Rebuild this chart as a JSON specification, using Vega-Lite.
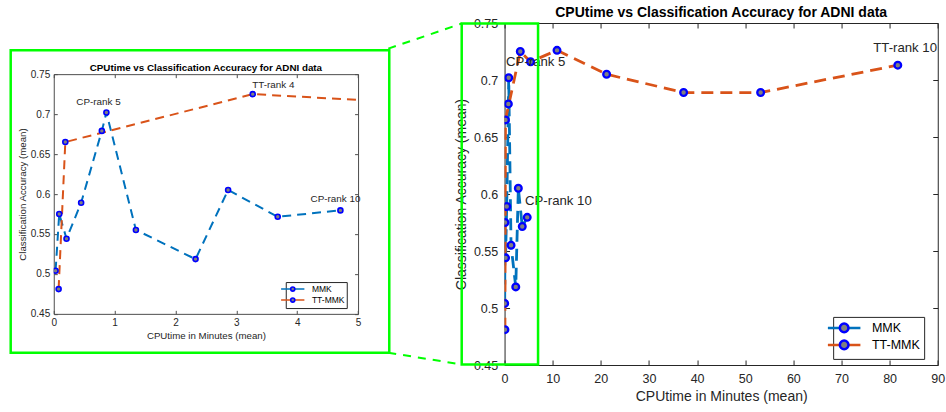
{
  "$schema": "https://vega.github.io/schema/vega-lite/v6.json",
  "background": "#ffffff",
  "padding": {"left": 8.75, "top": 5, "right": 2, "bottom": 2},
  "config": {
    "view": {"stroke": null},
    "font": "Liberation Sans",
    "axis": {"grid": false, "labelFlush": false, "labelOverlap": false, "labelFont": "Liberation Sans", "titleFont": "Liberation Sans"},
    "legend": {"labelFont": "Liberation Sans", "labelLimit": 0},
    "title": {"font": "Liberation Sans"}
  },
  "datasets": {
    "series": [
      {"series": "MMK", "cpu": 0.03, "acc": 0.504},
      {"series": "MMK", "cpu": 0.09, "acc": 0.575},
      {"series": "MMK", "cpu": 0.21, "acc": 0.544},
      {"series": "MMK", "cpu": 0.45, "acc": 0.589},
      {"series": "MMK", "cpu": 0.79, "acc": 0.679},
      {"series": "MMK", "cpu": 0.865, "acc": 0.702},
      {"series": "MMK", "cpu": 1.35, "acc": 0.555},
      {"series": "MMK", "cpu": 2.33, "acc": 0.5185},
      {"series": "MMK", "cpu": 2.865, "acc": 0.605},
      {"series": "MMK", "cpu": 3.68, "acc": 0.5715},
      {"series": "MMK", "cpu": 4.71, "acc": 0.5795},
      {"series": "TT-MMK", "cpu": 0.08, "acc": 0.481},
      {"series": "TT-MMK", "cpu": 0.19, "acc": 0.665},
      {"series": "TT-MMK", "cpu": 3.27, "acc": 0.725},
      {"series": "TT-MMK", "cpu": 5.4, "acc": 0.716},
      {"series": "TT-MMK", "cpu": 10.9, "acc": 0.726},
      {"series": "TT-MMK", "cpu": 21.2, "acc": 0.705},
      {"series": "TT-MMK", "cpu": 37.2, "acc": 0.689},
      {"series": "TT-MMK", "cpu": 53.2, "acc": 0.689},
      {"series": "TT-MMK", "cpu": 81.7, "acc": 0.713}
    ],
    "labels_main": [
      {"label": "CP-rank 5", "cpu": 0.31, "acc": 0.716},
      {"label": "CP-rank 10", "cpu": 4.26, "acc": 0.5936},
      {"label": "TT-rank 10", "cpu": 76.6, "acc": 0.728}
    ],
    "labels_inset": [
      {"label": "CP-rank 5", "cpu": 0.37, "acc": 0.715},
      {"label": "TT-rank 4", "cpu": 3.26, "acc": 0.737},
      {"label": "CP-rank 10", "cpu": 4.22, "acc": 0.594}
    ],
    "boxes": [
      {"box": "zoomed", "x0": -8.9, "x1": 6.96, "y0": 0.4505, "y1": 0.7495},
      {"box": "inset", "x0": -102.6, "x1": -23.95, "y0": 0.4608, "y1": 0.726}
    ],
    "links": [
      {"link": "upper", "cpu": -24.16, "acc": 0.7275},
      {"link": "upper", "cpu": -8.9, "acc": 0.7495},
      {"link": "lower", "cpu": -24.16, "acc": 0.4608},
      {"link": "lower", "cpu": -8.9, "acc": 0.4505}
    ]
  },
  "spacing": 145.8,
  "bounds": "flush",
  "center": true,
  "resolve": {
    "scale": {"x": "independent", "y": "independent", "color": "independent", "fill": "independent"},
    "legend": {"color": "independent", "fill": "independent"}
  },
  "hconcat": [
    {
      "width": 304.3,
      "height": 239.7,
      "title": {"text": "CPUtime vs Classification Accuracy for ADNI data", "fontSize": 9.8, "fontWeight": "bold", "color": "#000000", "offset": -3.5, "frame": "group"},
      "resolve": {"axis": {"x": "independent", "y": "independent"}},
      "layer": [
        {
          "data": {"name": "series"},
          "mark": {"type": "line", "strokeWidth": 2, "strokeDash": [9, 6], "clip": true},
          "encoding": {
            "x": {"field": "cpu", "type": "quantitative", "scale": {"domain": [0, 5], "nice": false, "zero": false},
              "axis": {"orient": "bottom", "values": [0, 1, 2, 3, 4, 5], "tickSize": -3.5, "labelPadding": 7, "labelFontSize": 10, "labelColor": "#262626", "domainColor": "#4d4d4d", "tickColor": "#4d4d4d", "title": "CPUtime in Minutes (mean)", "titleFontSize": 9.7, "titleFontWeight": "normal", "titleColor": "#262626", "titlePadding": 3}},
            "y": {"field": "acc", "type": "quantitative", "scale": {"domain": [0.45, 0.75], "nice": false, "zero": false},
              "axis": {"orient": "left", "values": [0.45, 0.5, 0.55, 0.6, 0.65, 0.7, 0.75], "format": ".2~f", "tickSize": -3.5, "labelPadding": 7.5, "labelFontSize": 10, "labelColor": "#262626", "domainColor": "#4d4d4d", "tickColor": "#4d4d4d", "title": "Classification Accuracy (mean)", "titleFontSize": 9.7, "titleFontWeight": "normal", "titleColor": "#262626", "titlePadding": 3}},
            "color": {"field": "series", "type": "nominal", "scale": {"domain": ["MMK", "TT-MMK"], "range": ["#0072BD", "#D95319"]},
              "legend": {"orient": "none", "legendX": 232, "legendY": 207.9, "title": null, "symbolType": "M-3.14,0H-0.55M0.55,0H3.14M0,-0.55M0,0.55", "symbolSize": 55, "symbolStrokeWidth": 1.6, "labelFontSize": 8.5, "labelColor": "#000000", "labelOffset": 14.15, "rowPadding": -3.7, "padding": 2, "strokeColor": "#262626", "fillColor": "#ffffff"}}
          }
        },
        {
          "data": {"name": "series"},
          "mark": {"type": "point", "filled": true, "size": 25, "stroke": "#0000FF", "strokeWidth": 1.6, "opacity": 1, "clip": true},
          "encoding": {
            "x": {"field": "cpu", "type": "quantitative", "scale": {"domain": [0, 5], "nice": false, "zero": false}, "axis": null},
            "y": {"field": "acc", "type": "quantitative", "scale": {"domain": [0.45, 0.75], "nice": false, "zero": false}, "axis": null},
            "fill": {"field": "series", "type": "nominal", "scale": {"domain": ["TT-MMK", "MMK"], "range": ["#808080", "#808080"]},
              "legend": {"orient": "none", "legendX": 232, "legendY": 207.9, "title": null, "symbolType": "M-3.14,0M3.14,0M-0.55,0A0.55,0.55,0,1,1,0.55,0A0.55,0.55,0,1,1,-0.55,0Z", "symbolSize": 55, "symbolStrokeWidth": 1.6, "symbolStrokeColor": "#0000FF", "labelFontSize": 8.5, "labelOpacity": 0, "labelExpr": "' '", "labelOffset": 14.15, "rowPadding": -3.7, "padding": 2}}
          }
        },
        {
          "data": {"name": "labels_inset"},
          "mark": {"type": "text", "align": "left", "baseline": "middle", "fontSize": 9.9, "color": "#262626"},
          "encoding": {
            "x": {"field": "cpu", "type": "quantitative", "scale": {"domain": [0, 5], "nice": false, "zero": false},
              "axis": {"orient": "top", "values": [0, 1, 2, 3, 4, 5], "labels": false, "title": null, "tickSize": -3.5, "domainColor": "#4d4d4d", "tickColor": "#4d4d4d"}},
            "y": {"field": "acc", "type": "quantitative", "scale": {"domain": [0.45, 0.75], "nice": false, "zero": false},
              "axis": {"orient": "right", "values": [0.45, 0.5, 0.55, 0.6, 0.65, 0.7, 0.75], "labels": false, "title": null, "tickSize": -3.5, "domainColor": "#4d4d4d", "tickColor": "#4d4d4d"}},
            "text": {"field": "label"}
          }
        }
      ]
    },
    {
      "width": 433.2,
      "height": 342,
      "title": {"text": "CPUtime vs Classification Accuracy for ADNI data", "fontSize": 14, "fontWeight": "bold", "color": "#000000", "offset": -2.5, "frame": "group"},
      "resolve": {"axis": {"x": "independent", "y": "independent"}},
      "layer": [
        {
          "data": {"name": "series"},
          "mark": {"type": "line", "strokeWidth": 2.8, "strokeDash": [12, 7], "clip": true},
          "encoding": {
            "x": {"field": "cpu", "type": "quantitative", "scale": {"domain": [0, 90], "nice": false, "zero": false},
              "axis": {"orient": "bottom", "values": [0, 10, 20, 30, 40, 50, 60, 70, 80, 90], "tickSize": -5, "labelPadding": 12, "labelFontSize": 12.5, "labelColor": "#262626", "domainColor": "#262626", "tickColor": "#262626", "title": "CPUtime in Minutes (mean)", "titleFontSize": 14, "titleFontWeight": "normal", "titleColor": "#262626", "titlePadding": 5}},
            "y": {"field": "acc", "type": "quantitative", "scale": {"domain": [0.45, 0.75], "nice": false, "zero": false},
              "axis": {"orient": "left", "values": [0.45, 0.5, 0.55, 0.6, 0.65, 0.7, 0.75], "format": ".2~f", "tickSize": -5, "labelPadding": 11.8, "labelFontSize": 12.5, "labelColor": "#262626", "domainColor": "#262626", "tickColor": "#262626", "title": "Classification Accuracy (mean)", "titleFontSize": 14, "titleFontWeight": "normal", "titleColor": "#262626", "titlePadding": 5}},
            "color": {"field": "series", "type": "nominal", "scale": {"domain": ["MMK", "TT-MMK"], "range": ["#0072BD", "#D95319"]},
              "legend": {"orient": "none", "legendX": 328.6, "legendY": 293.9, "title": null, "symbolType": "M-2.83,0H-0.75M0.75,0H2.83M0,-0.75M0,0.75", "symbolSize": 132, "symbolStrokeWidth": 2.5, "labelFontSize": 12.5, "labelColor": "#000000", "labelOffset": 20.75, "rowPadding": -6.2, "padding": 4, "strokeColor": "#262626", "fillColor": "#ffffff"}}
          }
        },
        {
          "data": {"name": "series"},
          "mark": {"type": "point", "filled": true, "size": 45, "stroke": "#0000FF", "strokeWidth": 2.3, "opacity": 1, "clip": true},
          "encoding": {
            "x": {"field": "cpu", "type": "quantitative", "scale": {"domain": [0, 90], "nice": false, "zero": false}, "axis": null},
            "y": {"field": "acc", "type": "quantitative", "scale": {"domain": [0.45, 0.75], "nice": false, "zero": false}, "axis": null},
            "fill": {"field": "series", "type": "nominal", "scale": {"domain": ["TT-MMK", "MMK"], "range": ["#808080", "#808080"]},
              "legend": {"orient": "none", "legendX": 328.6, "legendY": 293.9, "title": null, "symbolType": "M-2.83,0M2.83,0M-0.75,0A0.75,0.75,0,1,1,0.75,0A0.75,0.75,0,1,1,-0.75,0Z", "symbolSize": 132, "symbolStrokeWidth": 2.5, "symbolStrokeColor": "#0000FF", "labelFontSize": 12.5, "labelOpacity": 0, "labelExpr": "' '", "labelOffset": 20.75, "rowPadding": -6.2, "padding": 4}}
          }
        },
        {
          "data": {"name": "labels_main"},
          "mark": {"type": "text", "align": "left", "baseline": "middle", "fontSize": 13.2, "color": "#262626"},
          "encoding": {
            "x": {"field": "cpu", "type": "quantitative", "scale": {"domain": [0, 90], "nice": false, "zero": false},
              "axis": {"orient": "top", "values": [0, 10, 20, 30, 40, 50, 60, 70, 80, 90], "labels": false, "title": null, "tickSize": -5, "domainColor": "#262626", "tickColor": "#262626"}},
            "y": {"field": "acc", "type": "quantitative", "scale": {"domain": [0.45, 0.75], "nice": false, "zero": false},
              "axis": {"orient": "right", "values": [0.45, 0.5, 0.55, 0.6, 0.65, 0.7, 0.75], "labels": false, "title": null, "tickSize": -5, "domainColor": "#262626", "tickColor": "#262626"}},
            "text": {"field": "label"}
          }
        },
        {
          "data": {"name": "boxes"},
          "mark": {"type": "rect", "filled": false, "stroke": "#00FF00", "strokeWidth": 2.5, "clip": false},
          "encoding": {
            "x": {"field": "x0", "type": "quantitative", "scale": {"domain": [0, 90], "nice": false, "zero": false}, "axis": null},
            "x2": {"field": "x1"},
            "y": {"field": "y0", "type": "quantitative", "scale": {"domain": [0.45, 0.75], "nice": false, "zero": false}, "axis": null},
            "y2": {"field": "y1"}
          }
        },
        {
          "data": {"name": "links"},
          "mark": {"type": "line", "stroke": "#00FF00", "strokeWidth": 2, "strokeDash": [8, 7], "clip": false},
          "encoding": {
            "x": {"field": "cpu", "type": "quantitative", "scale": {"domain": [0, 90], "nice": false, "zero": false}, "axis": null},
            "y": {"field": "acc", "type": "quantitative", "scale": {"domain": [0.45, 0.75], "nice": false, "zero": false}, "axis": null},
            "detail": {"field": "link"}
          }
        }
      ]
    }
  ]
}
